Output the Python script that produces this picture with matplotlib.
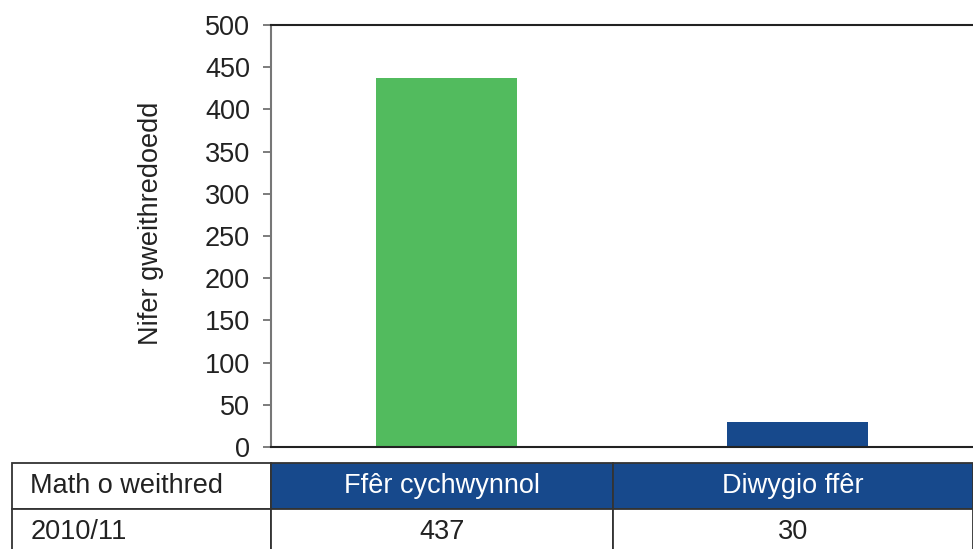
"""Bar chart of actions by type, with a small data table underneath."""
import matplotlib.pyplot as plt

plt.rcParams['font.family'] = ['Liberation Sans', 'DejaVu Sans']

# data
categories = ['Ffêr cychwynnol', 'Diwygio ffêr']
values = [437, 30]
bar_colors = ['#52bb5e', '#17498c']
y_ticks = [0, 50, 100, 150, 200, 250, 300, 350, 400, 450, 500]
y_label = 'Nifer gweithredoedd'
row_header = 'Math o weithred'
year_label = '2010/11'

W, H = 973, 549
FS = 19.5
fig = plt.figure(figsize=(W / 100, H / 100), dpi=100)

# chart area in pixel box
ax = fig.add_axes([271 / W, (H - 447) / H, (W - 271) / W, (447 - 25) / H])
x = range(len(categories))
ax.bar(x, values, width=0.4, color=bar_colors)
ax.set_xlim(-0.5, len(categories) - 0.5)
ax.set_ylim(0, 500)
ax.set_yticks(y_ticks)
ax.set_xticks([])
ax.tick_params(axis='y', labelsize=FS, length=6, width=1.2, color='#666666',
               pad=9, labelcolor='#222222')
ax.spines['right'].set_visible(False)
ax.spines['left'].set_color('#777777')
ax.spines['left'].set_linewidth(1.5)
ax.spines['bottom'].set_color('#222222')
ax.spines['bottom'].set_linewidth(1.5)
ax.spines['top'].set_color('#222222')
ax.spines['top'].set_linewidth(1.5)
ax.set_ylabel(y_label, fontsize=FS, color='#222222')
ax.yaxis.set_label_coords(-0.153, 0.53)

# table under the chart (bottom row runs off the figure)
tab_ax = fig.add_axes([12 / W, (H - 555) / H, (W - 12) / W, 92 / H])
tab_ax.axis('off')
cells = [[row_header] + categories, [year_label] + [str(v) for v in values]]
col_w = [259, 342, 360]
tbl = tab_ax.table(cellText=cells, colWidths=[w / sum(col_w) for w in col_w],
                   cellLoc='center', bbox=[0, 0, 1, 1])
tbl.auto_set_font_size(False)
for (r, c), cell in tbl.get_celld().items():
    cell.set_edgecolor('#333333')
    cell.set_linewidth(1.3)
    cell.get_text().set_fontsize(FS)
    cell.get_text().set_color('#222222')
    if c == 0:
        cell.PAD = 0.07
        cell._loc = 'left'
        cell.get_text().set_ha('left')
    if r == 0 and c > 0:
        cell.set_facecolor('#17498c')
        cell.get_text().set_color('white')

fig.savefig('out.png', dpi=100)
